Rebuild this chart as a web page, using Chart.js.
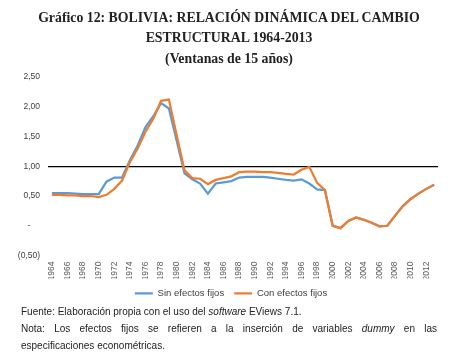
<!DOCTYPE html>
<html>
<head>
<meta charset="utf-8">
<script src="https://cdn.jsdelivr.net/npm/chart.js@4.4.1/dist/chart.umd.min.js"></script>
<style>
  html, body { margin: 0; padding: 0; background: #fff; }
  body { width: 476px; height: 354px; position: relative; overflow: hidden; }
  .title { position: absolute; left: 0; width: 458px; text-align: center; font-family: "Liberation Serif", "Times New Roman", serif; font-weight: bold; font-size: 13.8px; color: #222; line-height: 20px; }
  #wrap { position: absolute; left: 0; top: 0; width: 462px; height: 354px; }
  .note { position: absolute; left: 21px; width: 416px; font-family: "Liberation Sans", Arial, sans-serif; font-size: 10px; line-height: 17px; color: #222; white-space: nowrap; }
  .just { text-align: justify; text-align-last: justify; }
</style>
</head>
<body>
<div id="wrap"><canvas id="c"></canvas></div>
<div class="title" style="top:8px">Gráfico 12: BOLIVIA: RELACIÓN DINÁMICA DEL CAMBIO<br>ESTRUCTURAL 1964-2013</div>
<div class="title" style="top:49px">(Ventanas de 15 años)</div>
<div class="note" style="top:303px">Fuente: Elaboración propia con el uso del <i>software</i> EViews 7.1.</div>
<div class="note just" style="top:320px; white-space: normal">Nota: Los efectos fijos se refieren a la inserción de variables <i>dummy</i> en las</div>
<div class="note" style="top:337px">especificaciones econométricas.</div>
<script>
const YEARS = [];
for (let y = 1964; y <= 2013; y++) YEARS.push(String(y));

const SIN_EFECTOS = [
  0.55, 0.55, 0.55, 0.54, 0.53, 0.53, 0.53, 0.74, 0.81, 0.81,
  1.10, 1.35, 1.66, 1.84, 2.06, 1.97, 1.43, 0.88, 0.78, 0.71,
  0.54, 0.71, 0.73, 0.75, 0.81, 0.82, 0.82, 0.82, 0.81, 0.79,
  0.77, 0.76, 0.78, 0.71, 0.61, 0.60, 0.00, -0.04, 0.08, 0.14,
  0.10, 0.05, -0.01, 0.00, 0.17, 0.33, 0.45, 0.54, 0.62, 0.69
];

const CON_EFECTOS = [
  0.52, 0.52, 0.51, 0.51, 0.50, 0.50, 0.48, 0.52, 0.62, 0.76,
  1.07, 1.30, 1.58, 1.80, 2.10, 2.12, 1.52, 0.93, 0.80, 0.79,
  0.70, 0.77, 0.80, 0.83, 0.90, 0.91, 0.91, 0.90, 0.90, 0.89,
  0.87, 0.86, 0.94, 0.99, 0.72, 0.60, 0.00, -0.04, 0.08, 0.14,
  0.10, 0.05, -0.01, 0.00, 0.17, 0.33, 0.45, 0.54, 0.62, 0.69
];

const fmtY = v => {
  if (Math.abs(v) < 1e-9) return '-\u2007\u2007';
  const s = Math.abs(v).toFixed(2).replace('.', ',');
  return v < 0 ? '(' + s + ')' : s;
};

// el legend de Excel queda algo mas a la derecha que el centro del canvas
const legendShift = {
  id: 'legendShift',
  afterLayout(chart) {
    if (chart.legend) { chart.legend.left += 12; chart.legend.right += 12; }
  }
};

new Chart(document.getElementById('c'), {
  type: 'line',
  data: {
    labels: YEARS,
    datasets: [
      { label: 'Sin efectos fijos', data: SIN_EFECTOS, borderColor: '#5B9BD5', backgroundColor: '#5B9BD5', borderWidth: 2.25, pointRadius: 0, tension: 0, order: 1 },
      { label: 'Con efectos fijos', data: CON_EFECTOS, borderColor: '#ED7D31', backgroundColor: '#ED7D31', borderWidth: 2.25, pointRadius: 0, tension: 0, order: 0 }
    ]
  },
  plugins: [legendShift],
  options: {
    responsive: true, maintainAspectRatio: false, animation: false,
    layout: { padding: { top: 77, left: 0, right: 24, bottom: 46 } },
    plugins: {
      tooltip: { enabled: false },
      legend: {
        position: 'bottom',
        labels: {
          usePointStyle: true, pointStyle: 'line', pointStyleWidth: 18,
          boxHeight: 10, padding: 10, color: '#404040',
          font: { family: 'Liberation Sans', size: 9.5 },
          sort: (a, b) => a.datasetIndex - b.datasetIndex
        }
      }
    },
    scales: {
      x: {
        offset: true,
        grid: { display: false, drawTicks: false },
        border: { display: false },
        ticks: {
          autoSkip: false, maxRotation: 90, minRotation: 90, padding: 6,
          color: '#595959', font: { family: 'Liberation Sans', size: 8.5 },
          callback: (v, i) => i % 2 === 0 ? YEARS[i] : ''
        },
        afterFit: s => { s.height = 23; }
      },
      y: {
        min: -0.5, max: 2.5,
        grid: { drawTicks: false, lineWidth: 1.2, color: c => c.tick && Math.abs(c.tick.value - 1) < 1e-9 ? '#000' : 'rgba(0,0,0,0)' },
        border: { display: false },
        ticks: { stepSize: 0.5, padding: 8, color: '#404040', font: { family: 'Liberation Sans', size: 8.5 }, callback: v => fmtY(v) },
        afterFit: s => { s.width = 48; }
      }
    }
  }
});
</script>
</body>
</html>
